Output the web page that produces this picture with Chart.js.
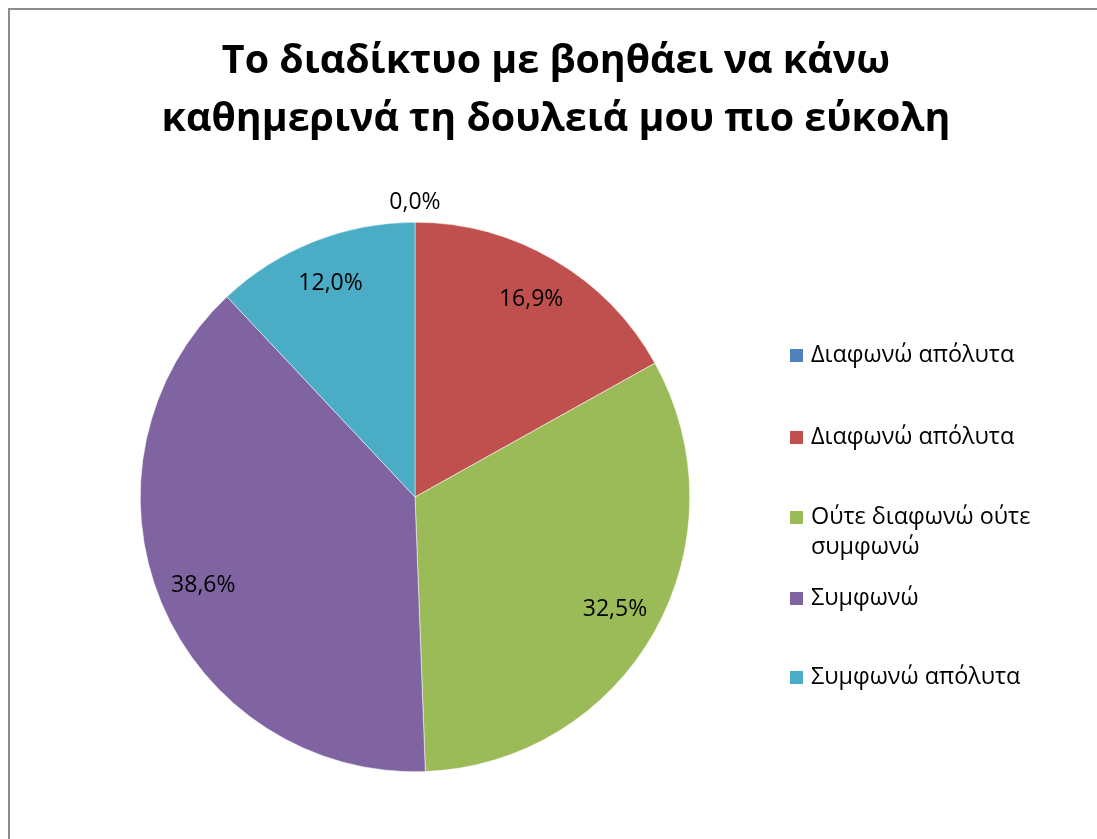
<!DOCTYPE html>
<html>
<head>
<meta charset="utf-8">
<script src="https://cdn.jsdelivr.net/npm/chart.js@4/dist/chart.umd.min.js"></script>
<style>
  body { margin: 0; background: #fff; }
  #wrap { width: 1097px; height: 839px; }
</style>
</head>
<body>
<div id="wrap"><canvas id="pie" width="1097" height="839"></canvas></div>
<script>
const TITLE_LINES = ['Το διαδίκτυο με βοηθάει να κάνω', 'καθημερινά τη δουλειά μου πιο εύκολη'];
const CATEGORIES = ['Διαφωνώ απόλυτα', 'Διαφωνώ απόλυτα', 'Ούτε διαφωνώ ούτε συμφωνώ', 'Συμφωνώ', 'Συμφωνώ απόλυτα'];
const LEGEND_LINES = [['Διαφωνώ απόλυτα'], ['Διαφωνώ απόλυτα'], ['Ούτε διαφωνώ ούτε', 'συμφωνώ'], ['Συμφωνώ'], ['Συμφωνώ απόλυτα']];
const PERCENTS = [0.0, 16.9, 32.5, 38.6, 12.0];
const COLORS = ['#4f81bd', '#c0504d', '#9bbb59', '#8064a2', '#4bacc6'];

const FONT = '"Open Sans", "Liberation Sans", sans-serif';
const fmtPct = (v) => v.toFixed(1).replace('.', ',') + '%';

// frame, title, slice labels and legend drawn on top of the pie
const decorations = {
    id: 'decorations',
    beforeDraw(chart) {
        const ctx = chart.ctx;
        ctx.save();
        ctx.strokeStyle = '#8c8c8c';
        ctx.lineWidth = 2;
        ctx.strokeRect(9, 9, chart.width + 20, chart.height + 20);
        ctx.restore();
    },
    afterDraw(chart) {
        const ctx = chart.ctx;
        ctx.save();
        ctx.fillStyle = '#000';
        ctx.textAlign = 'center';
        ctx.textBaseline = 'alphabetic';
        ctx.font = 'bold 39.4px ' + FONT;
        ctx.fillText(TITLE_LINES[0], 556, 73);
        ctx.fillText(TITLE_LINES[1], 556, 131);

        // percentage labels
        ctx.font = '23px ' + FONT;
        ctx.textBaseline = 'middle';
        const arcs = chart.getDatasetMeta(0).data;
        arcs.forEach((arc, i) => {
            const mid = (arc.startAngle + arc.endAngle) / 2;
            const r = PERCENTS[i] === 0 ? arc.outerRadius + 20 : arc.outerRadius * 0.835;
            ctx.fillText(fmtPct(PERCENTS[i]), arc.x + Math.cos(mid) * r, arc.y + Math.sin(mid) * r);
        });

        // legend
        const rows = [355, 437, 517, 598, 677];
        ctx.textAlign = 'left';
        ctx.font = '23.4px ' + FONT;
        LEGEND_LINES.forEach((lines, i) => {
            ctx.fillStyle = COLORS[i];
            ctx.fillRect(790, rows[i] - 6, 13, 13);
            ctx.fillStyle = '#000';
            lines.forEach((t, j) => ctx.fillText(t, 811, rows[i] + j * 30));
        });
        ctx.restore();
    }
};

new Chart(document.getElementById('pie'), {
    type: 'pie',
    data: {
        labels: CATEGORIES,
        datasets: [{
            data: PERCENTS,
            backgroundColor: COLORS,
            borderColor: '#ffffff',
            borderWidth: 0.5
        }]
    },
    options: {
        responsive: false,
        animation: false,
        layout: { padding: { left: 140, top: 222, right: 407, bottom: 67 } },
        plugins: {
            legend: { display: false },
            title: { display: false },
            tooltip: { enabled: false }
        }
    },
    plugins: [decorations]
});
</script>
</body>
</html>
